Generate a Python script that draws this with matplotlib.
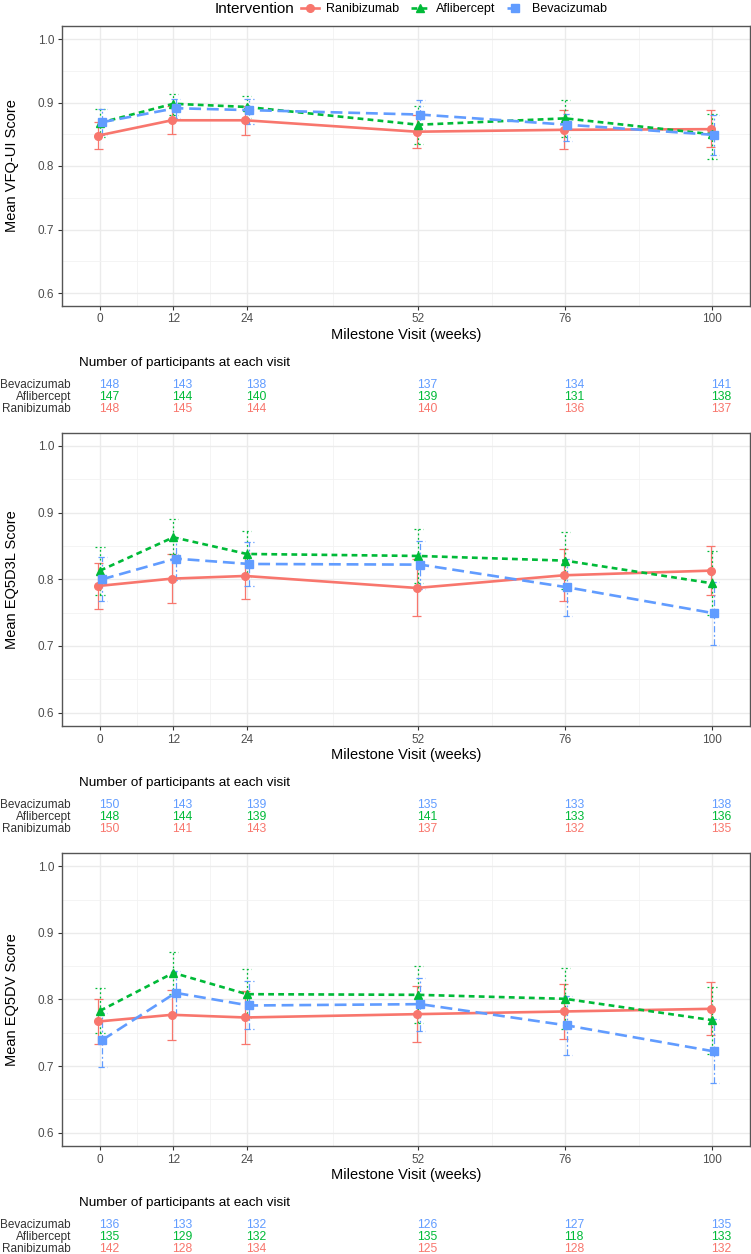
import numpy as np
import matplotlib.pyplot as plt
from matplotlib.lines import Line2D

plt.rcParams['font.family'] = ['Liberation Sans', 'DejaVu Sans']

# Milestone visits (weeks)
weeks = [0, 12, 24, 52, 76, 100]
groups = ['Ranibizumab', 'Aflibercept', 'Bevacizumab']

# Panel 1: VFQ-UI  (mean, lower, upper)
vfq_mean = {'Ranibizumab': [0.848, 0.872, 0.872, 0.854, 0.857, 0.858],
            'Aflibercept': [0.868, 0.898, 0.893, 0.865, 0.875, 0.850],
            'Bevacizumab': [0.869, 0.891, 0.888, 0.881, 0.865, 0.849]}
vfq_lo = {'Ranibizumab': [0.827, 0.850, 0.849, 0.829, 0.827, 0.830],
          'Aflibercept': [0.846, 0.881, 0.875, 0.835, 0.846, 0.811],
          'Bevacizumab': [0.849, 0.876, 0.866, 0.859, 0.839, 0.818]}
vfq_hi = {'Ranibizumab': [0.870, 0.894, 0.895, 0.880, 0.888, 0.888],
          'Aflibercept': [0.890, 0.914, 0.911, 0.895, 0.904, 0.882],
          'Bevacizumab': [0.889, 0.905, 0.906, 0.904, 0.882, 0.880]}

# Panel 2: EQ5D3L
eq3_mean = {'Ranibizumab': [0.790, 0.801, 0.805, 0.787, 0.806, 0.813],
            'Aflibercept': [0.813, 0.863, 0.838, 0.835, 0.828, 0.794],
            'Bevacizumab': [0.800, 0.831, 0.823, 0.822, 0.788, 0.749]}
eq3_lo = {'Ranibizumab': [0.756, 0.764, 0.770, 0.745, 0.767, 0.776],
          'Aflibercept': [0.777, 0.838, 0.804, 0.795, 0.786, 0.746],
          'Bevacizumab': [0.768, 0.799, 0.790, 0.786, 0.745, 0.702]}
eq3_hi = {'Ranibizumab': [0.824, 0.838, 0.840, 0.831, 0.845, 0.850],
          'Aflibercept': [0.848, 0.890, 0.873, 0.875, 0.871, 0.842],
          'Bevacizumab': [0.834, 0.862, 0.856, 0.858, 0.831, 0.796]}

# Panel 3: EQ5DV
eqv_mean = {'Ranibizumab': [0.767, 0.777, 0.773, 0.778, 0.782, 0.786],
            'Aflibercept': [0.783, 0.840, 0.808, 0.807, 0.801, 0.769],
            'Bevacizumab': [0.739, 0.810, 0.791, 0.793, 0.761, 0.722]}
eqv_lo = {'Ranibizumab': [0.733, 0.739, 0.733, 0.736, 0.741, 0.747],
          'Aflibercept': [0.749, 0.809, 0.772, 0.764, 0.755, 0.718],
          'Bevacizumab': [0.699, 0.777, 0.756, 0.753, 0.716, 0.674]}
eqv_hi = {'Ranibizumab': [0.801, 0.815, 0.813, 0.820, 0.824, 0.826],
          'Aflibercept': [0.817, 0.871, 0.846, 0.850, 0.847, 0.819],
          'Bevacizumab': [0.779, 0.843, 0.828, 0.832, 0.806, 0.770]}

# Number of participants at each visit
vfq_n = {'Bevacizumab': [148, 143, 138, 137, 134, 141],
         'Aflibercept': [147, 144, 140, 139, 131, 138],
         'Ranibizumab': [148, 145, 144, 140, 136, 137]}
eq3_n = {'Bevacizumab': [150, 143, 139, 135, 133, 138],
         'Aflibercept': [148, 144, 139, 141, 133, 136],
         'Ranibizumab': [150, 141, 143, 137, 132, 135]}
eqv_n = {'Bevacizumab': [136, 133, 132, 126, 127, 135],
         'Aflibercept': [135, 129, 132, 135, 118, 133],
         'Ranibizumab': [142, 128, 134, 125, 128, 132]}

ylabels = ['Mean VFQ-UI Score', 'Mean EQ5D3L Score', 'Mean EQ5DV Score']

colors = {'Ranibizumab': '#F8766D', 'Aflibercept': '#00BA38', 'Bevacizumab': '#619CFF'}
markers = {'Ranibizumab': 'o', 'Aflibercept': '^', 'Bevacizumab': 's'}
msize = {'Ranibizumab': 5.5, 'Aflibercept': 6, 'Bevacizumab': 5.5}
line_ls = {'Ranibizumab': '-', 'Aflibercept': (0, (2.2, 1.6)), 'Bevacizumab': (0, (4.5, 2.2))}
err_ls = {'Ranibizumab': '-', 'Aflibercept': (0, (1.5, 2)), 'Bevacizumab': (0, (5, 2, 1.5, 2))}
dodge = {'Ranibizumab': -0.25, 'Aflibercept': 0.0, 'Bevacizumab': 0.35}

W, H = 751, 1254
fig = plt.figure(figsize=(W / 100, H / 100), dpi=100)

# (top, bottom) of each panel in pixels
panel_px = [(26.3, 305.7), (432.6, 726.0), (853.0, 1146.0)]
left_px, right_px = 62, 750

panels = [(vfq_mean, vfq_lo, vfq_hi, vfq_n),
          (eq3_mean, eq3_lo, eq3_hi, eq3_n),
          (eqv_mean, eqv_lo, eqv_hi, eqv_n)]

for k, (mean, lo, hi, counts) in enumerate(panels):
    top, bot = panel_px[k]
    ax = fig.add_axes([left_px / W, 1 - bot / H, (right_px - left_px) / W, (bot - top) / H])
    ax.set_xlim(-6.2, 106.2)
    ax.set_ylim(0.58, 1.02)
    ax.set_xticks(weeks)
    ax.set_xticks([6, 18, 38, 64, 88], minor=True)
    ax.set_yticks([0.6, 0.7, 0.8, 0.9, 1.0])
    ax.set_yticks([0.65, 0.75, 0.85, 0.95], minor=True)
    ax.set_yticklabels(['0.6', '0.7', '0.8', '0.9', '1.0'])
    ax.grid(which='major', color='#EBEBEB', lw=1.0)
    ax.grid(which='minor', color='#F2F2F2', lw=0.6)
    ax.set_axisbelow(True)
    for s in ax.spines.values():
        s.set_color('#555555')
        s.set_linewidth(1.0)
    ax.tick_params(which='major', length=3, width=0.8, color='#333333',
                   labelsize=8.5, labelcolor='#4D4D4D', pad=2.5)
    ax.tick_params(which='minor', length=0)
    ax.set_xlabel('Milestone Visit (weeks)', fontsize=10.5, labelpad=2)
    ax.set_ylabel(ylabels[k], fontsize=10.5)
    ax.yaxis.set_label_coords(-(left_px - 19) / (right_px - left_px), 0.5)

    for g in groups:
        x = np.array(weeks) + dodge[g]
        m = np.array(mean[g])
        ax.vlines(x, lo[g], hi[g], color=colors[g], lw=0.9, linestyles=err_ls[g], zorder=2)
        ax.hlines(lo[g], x - 0.75, x + 0.75, color=colors[g], lw=0.9, linestyles=err_ls[g], zorder=2)
        ax.hlines(hi[g], x - 0.75, x + 0.75, color=colors[g], lw=0.9, linestyles=err_ls[g], zorder=2)
        ax.plot(x, m, color=colors[g], ls=line_ls[g], lw=1.9, marker=markers[g],
                ms=msize[g], zorder=3)

    # participant counts table under the panel
    ax.annotate('Number of participants at each visit', xy=(79, 0),
                xycoords=('figure pixels', 'axes fraction'),
                xytext=(0, -57 * 0.72), textcoords='offset points',
                ha='left', va='center', fontsize=9.7, color='black')
    for r, g in enumerate(['Bevacizumab', 'Aflibercept', 'Ranibizumab']):
        dy = -(79 + 12 * r) * 0.72
        ax.annotate(g, xy=(71, 0), xycoords=('figure pixels', 'axes fraction'),
                    xytext=(0, dy), textcoords='offset points',
                    ha='right', va='center', fontsize=8.5, color='#333333')
        for wk, n in zip(weeks, counts[g]):
            ax.annotate(str(n), xy=(wk, 0), xycoords=('data', 'axes fraction'),
                        xytext=(9 * 0.72, dy), textcoords='offset points',
                        ha='center', va='center', fontsize=8.7, color=colors[g],
                        annotation_clip=False)

# legend across the top
handles = [Line2D([0], [0], color=colors[g], ls=line_ls[g], lw=1.9,
                  marker=markers[g], ms=msize[g]) for g in groups]
fig.text(255 / W, 1 - 9 / H, 'Intervention', ha='center', va='center', fontsize=11)
fig.legend(handles, groups, loc='center', bbox_to_anchor=(454 / W, 1 - 9 / H),
           ncol=3, frameon=False, fontsize=9, handlelength=1.4, handletextpad=0.6,
           columnspacing=0.9, borderaxespad=0, borderpad=0)

fig.savefig('out.png', dpi=100)
